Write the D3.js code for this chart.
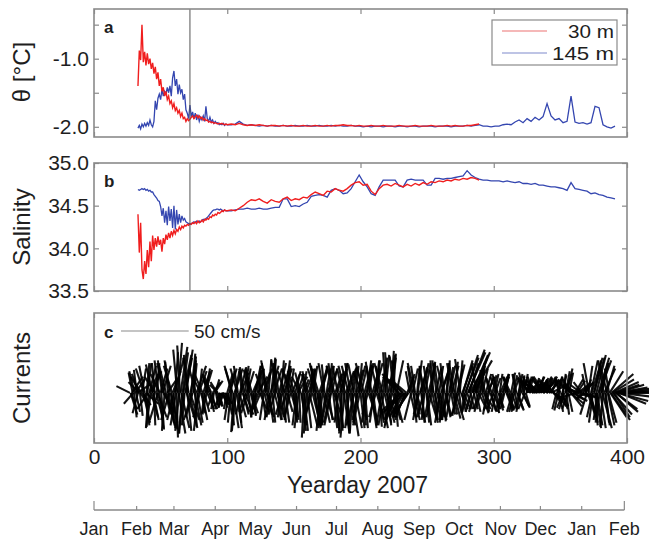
<!DOCTYPE html>
<html>
<head>
<meta charset="utf-8">
<script src="https://cdn.jsdelivr.net/npm/d3@7"></script>
<style>
  body { margin: 0; background: #fff; }
  text { font-family: "Liberation Sans", Arial, sans-serif; fill: #1e1e1e; }
</style>
</head>
<body>
<div id="container"></div>
<script>
/* DATA */
// sampling days: daily through the noisy spring, then every 3 days
const daysEarly = d3.range(33, 101);
const daysLateShallow = d3.range(103, 290, 3);
const daysLateDeep = d3.range(103, 392, 3);

// potential temperature, 30 m (red)
const theta30 = [
  -1.40, -0.88, -1.02, -0.50, -1.05, -0.90, -1.10, -0.92, -1.08, -1.00,
  -1.15, -1.06, -1.22, -1.12, -1.30, -1.20, -1.40, -1.30, -1.48, -1.42,
  -1.55, -1.48, -1.60, -1.55, -1.66, -1.62, -1.72, -1.66, -1.76, -1.72,
  -1.80, -1.76, -1.85, -1.80, -1.88, -1.86, -1.92, -1.88, -1.91, -1.89,
  -1.86, -1.84, -1.88, -1.85, -1.83, -1.87, -1.84, -1.88, -1.86, -1.90,
  -1.88, -1.91, -1.90, -1.93, -1.92, -1.94, -1.93, -1.95, -1.94, -1.95,
  -1.96, -1.95, -1.96, -1.95, -1.96, -1.97, -1.96, -1.97,
  -1.96, -1.97, -1.95, -1.97, -1.98, -1.97, -1.98, -1.97, -1.98, -1.99,
  -1.98, -1.98, -1.99, -1.98, -1.99, -1.98, -1.99, -1.99, -1.98, -1.99,
  -1.99, -1.98, -1.99, -1.99, -1.98, -1.99, -1.98, -1.98, -1.97, -1.98,
  -1.98, -1.99, -1.98, -1.99, -1.99, -1.98, -1.99, -1.99, -1.98, -1.99,
  -1.99, -1.99, -1.98, -1.99, -1.99, -1.99, -1.98, -1.99, -1.99, -1.99,
  -1.98, -1.99, -1.99, -1.99, -1.98, -1.99, -1.98, -1.99, -1.99, -1.98,
  -1.98, -1.97, -1.96
];

// potential temperature, 145 m (blue)
const theta145 = [
  -2.02, -1.98, -2.03, -1.96, -2.00, -1.95, -1.99, -1.94, -1.98, -1.90,
  -1.97, -2.00, -1.92, -1.62, -1.75, -1.58, -1.52, -1.60, -1.45, -1.55,
  -1.48, -1.52, -1.42, -1.50, -1.40, -1.55, -1.28, -1.18, -1.40, -1.30,
  -1.52, -1.38, -1.50, -1.45, -1.60, -1.52, -1.75, -1.80, -1.88, -1.68,
  -1.85, -1.78, -1.88, -1.80, -1.90, -1.82, -1.92, -1.86, -1.90, -1.84,
  -1.92, -1.70, -1.88, -1.92, -1.86, -1.93, -1.90, -1.95, -1.92, -1.95,
  -1.94, -1.97, -1.96, -1.97, -1.95, -1.98, -1.96, -1.97,
  -1.97, -1.96, -1.92, -1.96, -1.98, -1.97, -1.98, -1.99, -1.98, -1.99,
  -1.98, -1.99, -1.99, -1.98, -1.99, -1.99, -1.98, -1.99, -1.99, -1.98,
  -1.99, -1.99, -1.98, -1.99, -1.99, -1.98, -1.99, -1.98, -1.99, -1.99,
  -1.98, -1.99, -1.99, -2.00, -1.99, -2.00, -1.99, -1.99, -2.00, -1.99,
  -1.99, -2.00, -1.99, -1.99, -2.00, -1.99, -1.99, -2.00, -1.99, -1.99,
  -1.99, -2.00, -1.99, -1.99, -1.99, -2.00, -1.99, -1.99, -1.99, -1.98,
  -1.99, -1.98, -1.97, -1.99, -1.99, -2.00, -1.99, -1.99, -1.97, -1.96,
  -1.97, -1.93, -1.90, -1.94, -1.88, -1.92, -1.86, -1.90, -1.85, -1.66,
  -1.84, -1.90, -1.88, -1.94, -1.92, -1.55, -1.93, -1.95, -1.94, -1.96,
  -1.94, -1.70, -1.72, -1.97, -2.00, -2.02, -1.99
];

// salinity, 30 m (red)
const sal30 = [
  34.40, 33.95, 34.30, 33.75, 33.64, 33.85, 33.70, 33.98, 33.78, 34.08,
  33.85, 34.15, 33.98, 34.12, 34.02, 34.14, 34.04, 34.10, 33.96, 34.12,
  34.05, 34.16, 34.10, 34.18, 34.12, 34.20, 34.15, 34.21, 34.17, 34.22,
  34.20, 34.25, 34.22, 34.26, 34.24, 34.27, 34.26, 34.28, 34.27, 34.29,
  34.28, 34.30, 34.29, 34.31, 34.29, 34.32, 34.30, 34.31, 34.33, 34.31,
  34.34, 34.33, 34.35, 34.34, 34.37, 34.36, 34.39, 34.38, 34.40, 34.39,
  34.42, 34.41, 34.42, 34.44, 34.43, 34.45, 34.44, 34.44,
  34.45, 34.44, 34.47, 34.50, 34.54, 34.57, 34.56, 34.58, 34.55, 34.53,
  34.57, 34.55, 34.54, 34.58, 34.60, 34.56, 34.58, 34.57, 34.60, 34.59,
  34.63, 34.66, 34.64, 34.62, 34.67, 34.66, 34.70, 34.68, 34.67, 34.70,
  34.74, 34.77, 34.78, 34.74, 34.75, 34.67, 34.63, 34.70, 34.74, 34.75,
  34.73, 34.76, 34.74, 34.72, 34.75, 34.73, 34.76, 34.74, 34.77, 34.75,
  34.78, 34.77, 34.79, 34.78, 34.80, 34.79, 34.81, 34.80, 34.82, 34.81,
  34.83, 34.82, 34.80
];

// salinity, 145 m (blue)
const sal145 = [
  34.69, 34.68, 34.69, 34.70, 34.69, 34.70, 34.68, 34.69, 34.67, 34.68,
  34.66, 34.66, 34.63, 34.61, 34.59, 34.56, 34.55, 34.49, 34.38, 34.47,
  34.30, 34.44, 34.27, 34.49, 34.32, 34.46, 34.24, 34.50, 34.22, 34.45,
  34.28, 34.40, 34.30, 34.38, 34.33, 34.35, 34.31, 34.30, 34.29, 34.28,
  34.29, 34.30, 34.31, 34.30, 34.32, 34.31, 34.32, 34.31, 34.33, 34.34,
  34.33, 34.35, 34.36, 34.38, 34.40, 34.42, 34.44, 34.45, 34.45, 34.46,
  34.46, 34.45, 34.46, 34.45, 34.44, 34.45, 34.44, 34.44,
  34.44, 34.45, 34.46, 34.46, 34.47, 34.46, 34.46, 34.47, 34.46, 34.46,
  34.47, 34.48, 34.48, 34.58, 34.58, 34.49, 34.50, 34.49, 34.52, 34.54,
  34.61, 34.62, 34.63, 34.62, 34.60, 34.68, 34.70, 34.68, 34.64, 34.65,
  34.70, 34.78, 34.86, 34.78, 34.72, 34.64, 34.62, 34.72, 34.80, 34.80,
  34.80, 34.80, 34.73, 34.72, 34.80, 34.81, 34.80, 34.80, 34.80, 34.74,
  34.74, 34.82, 34.82, 34.81, 34.82, 34.82, 34.83, 34.84, 34.85, 34.91,
  34.86, 34.83, 34.81, 34.80, 34.80, 34.79, 34.79, 34.79, 34.78, 34.79,
  34.78, 34.77, 34.78, 34.76, 34.76, 34.75, 34.76, 34.74, 34.74, 34.73,
  34.72, 34.72, 34.71, 34.70, 34.68, 34.77, 34.70, 34.69, 34.68, 34.67,
  34.64, 34.65, 34.63, 34.62, 34.60, 34.59, 34.58
];

// current vectors (cm/s), twice daily; first stick on day 27
const currentStart = 27;
// 00h samples
const curU = [
  -10, 4, -3, 2, 7, -2, -4, -8, 6, 3,     5, -4, 9, 3, -2, 6, 5, -5, 1, -8,
  2, -6, 3, 5, -3, 8, -2, -5, 7, 4,       -4, 3, 6, -5, 2, 1, 3, -3, 5, -2,
  6, -2, 5, 3, -4, 7, 3, -5, 2, 1,        7, -3, 2, -6, 4, 5, -2, 3, 5, -4,
  3, -5, 6, -2, 3, 4, -6, 2, -4, 5,       3, -6, 2, 4, -3, 5, 2, -6, -2, 3,
  4, -3, 5, 6, -2, 4, 3, -5, 5, 2,        -3, 5, 6, -2, 4, -4, 7, 2, -5, 3,
  5, 3, -3, 5, 2, -4, 3, 2, 6, -5,        -4, 3, 5, -2, 6, 2, -5, 3, 4, -3,
  3, 5, -6, 2, 4, -3, 7, 1, -4, 3,        4, -2, -3, 3, 5, -4, 3, 5, -2, 3,
  -5, 2, 6, -3, 4, 5, -2, -4, 7, 3,       3, -5, -3, 6, 5, 2, -4, 3, 5, -2,
  3, -3, 6, 2, -5, 4, 4, -2, -4, 5,       5, -4, 2, 3, -6, 2, 5, -3, 3, 6,
  -3, 4, 5, -3, 3, 6, -5, 2, 4, -4,       3, 5, -2, 3, 5, -4, 2, 6, -3, 2,
  5, -3, -12, -14, -9, -10, -15, -7, 5, -12,  -3, -5, 4, 2, -3, 5, 3, -4, 5, 2,
  4, -2, -5, 3, 5, -4, 3, 4, -3, 2,       -3, 5, 3, -4, 6, 2, -3, 4, 2, -5,
  4, 3, -4, 5, 2, -3, 5, 2, -4, 3,        7, -2, 9, 4, 12, 10, -4, 13, 3, 9,
  3, 5, -4, 3, 5, -2, 6, 4, -3, 4,        -3, 4, 3, -5, 4, 2, -4, 3, 5, -3,
  4, -3, 2, 5, -4, 3, 3, -4, 4, 2,        -3, 4, 4, -3, 2, 5, -4, 3, 3, -4,
  8, -6, 10, 4, -9, 6, -10, 7, 5, -7,     10, -8, 6, 4, -10, 7, 12, -5, 6, -9,
  -3, 4, 3, -4, 5, 2, -4, 3, 4, 3,        -6, 8, -12, 10, 6, -14, 8, -10, 12, -6,
  5, -6, 4, -5, 3, 6, 5, -4, 8, 2,        7, -3, 9, 4, 5, -2, 8, 3, -5, 6,
  10, 14, 16, 12, 18, 16, 22, 20, 24, 25
];
const curV = [
  5, -12, 15, -18, 10, 17, -15, 8, -10, 18,   -22, 20, -8, 22, -26, 14, -18, 21, -24, 12,
  22, -20, -26, 18, 24, -14, -28, 20, 10, -22,  24, -26, 16, -20, 30, -33, 37, -28, 34, -30,
  28, -24, 32, -28, 26, -20, 29, -18, 22, -25,  20, -28, 18, 12, -20, 16, -15, 18, -12, 10,
  -14, 12, 8, -12, 10, -10, 6, -8, -10, -6,     -11, -4, -9, 14, -20, 18, -24, 20, -29, 16,
  -26, 20, -18, 15, 18, -16, 20, -14, 16, -18,  19, -15, 14, -18, 20, -16, 12, 17, -12, -18,
  15, -14, 22, -18, 24, -20, 26, -22, 18, -16,  25, -20, 22, -18, 20, -22, 16, 24, -14, -20,
  18, -18, 14, -20, 16, -24, 12, -22, 15, -28,  10, -33, 14, -26, 17, -22, 18, -20, 20, -24,
  22, -26, 18, -28, 20, -22, 21, -25, 16, -20,  20, -24, 22, -18, 14, -28, 20, -26, 18, -30,
  22, -33, 16, -28, 20, -24, 19, -30, 21, -26,  17, -20, 22, -26, 15, -24, 20, -22, 24, -18,
  23, -26, 18, -22, 24, -20, 21, -25, 19, -24,  26, -22, 30, -24, 28, -26, 31, -20, 27, -25,
  24, -18, 12, -16, -18, 10, -14, -16, 12, -18, 16, -20, 18, -22, 20, -18, 24, -16, 19, -22,
  22, -20, 18, -24, 21, -19, 23, -22, 17, -20,  24, -18, 20, -22, 19, -21, 22, -17, 24, -20,
  20, -16, 22, -19, 23, -17, 21, -15, 25, -14,  24, -15, 28, -12, 32, 18, -14, 30, -12, 26,
  -14, 22, -12, 18, -15, 17, -10, 14, -16, 12,  12, -14, 13, -12, 11, -15, 14, -13, 12, -14,
  13, -12, 14, -11, 12, -13, 15, -14, 11, -12,  14, -12, 12, -14, 13, -11, 15, -10, 10, 8,
  10, 12, 6, 11, 9, 12, 8, 11, 10, 12,          9, 12, 10, 11, 8, 10, 6, 9, -8, 5,
  -12, 10, -14, 12, -10, 14, -12, 16, 18, -14,  12, -10, 8, -6, 10, -4, 6, 4, -3, 8,
  7, -4, 10, -16, 20, -22, 24, -18, 26, -24,    28, -20, 24, -26, 22, -25, 18, -24, 20, -22,
  16, -20, 10, -18, 6, -14, 4, -8, 2, 0
];
// 12h samples
const curU12 = [
  5, 8, -7, -4, 3, 9, -5, 2, -8, 6,       -6, 3, 2, -8, 5, -3, 7, 4, -2, 5,
  7, -3, -7, 2, 6, -5, 4, 6, -2, -6,      5, -6, 3, 7, -4, -3, 5, -2, 6, 4,
  -4, 5, 7, -3, 6, 4, -6, 2, 5, -5,       4, 6, -5, 3, -6, 4, 5, -3, -4, 6,
  -5, 3, -4, 6, 2, -5, 3, -2, 5, -3,      -4, 5, -2, 3, 4, -2, -5, 4, 6, -3,
  -5, 2, 4, -4, 5, -3, 6, 3, -5, -4,      4, -5, 2, 5, -4, 3, -6, 5, 2, -5,
  -3, 5, 4, -5, 3, 6, -4, 2, 5, -2,       5, -3, 4, 2, -5, 6, 3, -4, 2, -5,
  -4, 6, 3, -5, 2, 5, -3, -6, 4, 3,       3, 5, -2, -4, 6, 2, -5, 3, 4, -6,
  4, -6, 2, 5, -3, -4, 6, 3, -5, 2,       -5, 4, 3, -6, 2, 5, -3, 6, 1, -4,
  4, -5, 2, 6, -3, -4, 5, 3, -6, 2,       -3, 5, -5, 4, 3, -6, 2, 5, -4, 3,
  5, -4, 3, 6, -5, 2, 4, -3, 5, -6,       -4, 3, 6, -2, 5, 4, -5, 2, 6, -3,
  -8, -12, -10, -15, -13, -8, -7, -12, -10, 4,  4, -3, 5, -5, 3, 2, -4, 6, 3, -2,
  -5, 4, 2, -3, 6, 3, -4, -2, 5, 4,       4, -3, 5, 6, -2, -5, 4, 2, -6, 3,
  -3, 5, 3, -4, 6, 4, -5, 2, 5, 8,        5, 10, -3, 13, 7, 3, 12, 14, -4, 7,
  -4, 6, 3, -5, 4, 5, -3, 2, 5, -4,       4, -4, 5, 3, -3, -5, 4, 2, -4, 5,
  -4, 3, 5, -3, 2, -5, 4, 3, -4, -2,      5, 3, -4, -2, 5, 3, -5, 4, -4, 3,
  -10, 8, -4, 10, 6, -8, 4, -10, 8, 4,    6, -10, 8, -6, 10, -8, 4, 10, -10, 8,
  4, -3, -4, 5, 3, -5, 5, 2, -4, 3,       10, -10, 8, -8, 12, 6, -12, 10, -8, 12,
  -5, 6, -3, 6, -4, 5, 8, -3, 5, 4,       4, 8, -3, 5, 7, -4, 3, 6, 5, -3,
  12, 16, 14, 18, 16, 20, 22, 22, 24, 22
];
const curV12 = [
  -16, 12, -8, 16, -14, 6, 14, -17, 12, -9,     18, -24, 22, -12, 20, -25, 16, -20, 22, -18,
  -18, 24, 14, -27, 20, 22, -16, -24, 23, -20,  -22, 20, -27, 26, -24, 32, -30, 35, -26, 30,
  -30, 26, -22, 28, -26, 24, -20, 27, -24, 18,  -22, 16, -18, -15, 14, -14, 17, -16, 14, -12,
  10, -12, -10, 9, -11, 8, -10, -9, -8, -11,    -10, -8, -12, -16, 16, -22, 18, -26, 18, -28,
  18, -22, 16, -16, -14, 19, -16, 18, -15, 17,  -16, 18, -17, 16, -14, 20, -15, -12, 18, 14,
  -20, 18, -16, 24, -22, 20, -18, 25, -20, 22,  -18, 22, -20, 24, -16, 18, -22, -12, 20, 18,
  -16, 14, -22, 16, -20, 14, -26, 12, -24, 16,  -28, 12, -30, 16, -24, 18, -18, 20, -22, 18,
  -24, 20, -22, 18, -26, 22, -20, 18, -24, 22,  -22, 18, -26, 20, -24, 16, -22, 22, -28, 18,
  -28, 20, -30, 18, -26, 22, -32, 17, -24, 20,  -22, 20, -24, 18, -20, 22, -26, 20, -16, 22,
  -22, 20, -24, 22, -18, 24, -22, 20, -26, 22,  -24, 28, -22, 30, -20, 26, -24, 29, -22, 24,
  -20, 14, -17, -14, 12, -15, -18, 10, -16, 14, -18, 20, -20, 22, -16, 20, -20, 18, -22, 20,
  -18, 22, -22, 20, -20, 22, -18, 24, -20, 18,  -20, 22, -20, 18, -22, 20, -18, 22, -20, 19,
  -18, 20, -16, 22, -20, 18, -16, 24, -12, 22,  -12, 26, -14, 30, 22, -12, 28, 24, -14, 20,
  20, -12, 16, -14, 18, -12, 15, -14, 12, -13,  -13, 11, -12, 14, -14, 12, -11, 14, -13, 12,
  -11, 14, -13, 12, -14, 11, -12, 13, -14, 14,  -13, 14, -12, 12, -10, 14, -12, 12, 9, 11,
  11, 8, 12, 9, 11, 10, 12, 9, 12, 10,          11, 10, 12, 9, 11, 8, 10, -6, 9, -10,
  12, -13, 11, -12, 13, -11, 14, -16, -12, 15,  -8, 9, -5, 8, -3, 9, 5, 7, 6, -4,
  -5, 8, 14, -18, 22, -20, 26, -22, 24, -26,    -24, 26, -22, 22, -26, 24, -22, 20, -24, 18,
  -18, 14, -16, 8, -12, 6, -6, 3, -3, 1
];

const yeardayTicks = [0, 100, 200, 300, 400];
const thetaTicks = [-2.0, -1.5, -1.0, -0.5];
const thetaLabelled = [-2.0, -1.0];
const salTicks = [33.5, 34.0, 34.5, 35.0];
const monthNames = ["Jan", "Feb", "Mar", "Apr", "May", "Jun", "Jul", "Aug", "Sep", "Oct", "Nov", "Dec", "Jan", "Feb"];
const monthDays = [0, 32, 60, 91, 121, 152, 182, 213, 244, 274, 305, 335, 366, 398];
const markerDay = 72;
const scaleBarSpeed = 50;

/* LAYOUT */
const width = 649, height = 541;
const left = 94, right = 627;
const panelA = { top: 9, bottom: 137 };
const panelB = { top: 163, bottom: 291 };
const panelC = { top: 313, bottom: 443 };
const red = "#f01e1e", blue = "#3446b0", frame = "#8a8a8a";

const svg = d3.select("#container").append("svg")
  .attr("width", width)
  .attr("height", height);

/* SCALES */
const x = d3.scaleLinear().domain([0, 400]).range([left, right]);
const yA = d3.scaleLinear().domain([-2.15, -0.27]).range([panelA.bottom, panelA.top]);
const yB = d3.scaleLinear().domain([33.5, 35.0]).range([panelB.bottom, panelB.top]);
const yC = d3.scaleLinear().domain([-37, 59]).range([panelC.bottom, panelC.top]);
const pxPerCm = yC(0) - yC(1);

function zipSeries(days, values) {
  return days.map((d, i) => ({ day: d, v: values[i] }));
}

// frame + inward ticks on all four sides
function drawFrame(p, yScale, yTickVals, yFormat, showX) {
  const g = svg.append("g");
  const tick = 5;
  g.append("g")
    .attr("transform", `translate(0,${p.bottom})`)
    .call(d3.axisBottom(x).tickValues(yeardayTicks).tickSize(-tick).tickPadding(6)
      .tickFormat(showX ? d3.format("d") : () => ""));
  g.append("g")
    .attr("transform", `translate(0,${p.top})`)
    .call(d3.axisTop(x).tickValues(yeardayTicks).tickSize(-tick).tickFormat(() => ""));
  if (yScale) {
    g.append("g")
      .attr("transform", `translate(${left},0)`)
      .call(d3.axisLeft(yScale).tickValues(yTickVals).tickSize(-tick).tickPadding(5).tickFormat(yFormat));
    g.append("g")
      .attr("transform", `translate(${right},0)`)
      .call(d3.axisRight(yScale).tickValues(yTickVals).tickSize(-tick).tickFormat(() => ""));
  }
  g.selectAll(".domain").remove();
  g.selectAll(".tick line").attr("stroke", frame).attr("stroke-width", 1.2);
  g.selectAll(".tick text").attr("font-size", 21).attr("fill", "#1e1e1e")
    .attr("font-family", '"Liberation Sans", Arial, sans-serif');
  g.append("rect")
    .attr("x", left).attr("y", p.top)
    .attr("width", right - left).attr("height", p.bottom - p.top)
    .attr("fill", "none").attr("stroke", frame).attr("stroke-width", 1.6);
  return g;
}

function panelLetter(t, y) {
  svg.append("text").attr("x", 104).attr("y", y)
    .attr("font-size", 17).attr("font-weight", "bold").text(t);
}

function yLabel(t, cy) {
  svg.append("text")
    .attr("transform", `translate(30,${cy}) rotate(-90)`)
    .attr("text-anchor", "middle")
    .attr("font-size", 24)
    .text(t);
}

/* PANEL a: theta */
const lineA = d3.line().x(d => x(d.day)).y(d => yA(d.v));
const thetaShallow = zipSeries(daysEarly.concat(daysLateShallow), theta30);
const thetaDeep = zipSeries(daysEarly.concat(daysLateDeep), theta145);

svg.append("path").datum(thetaDeep).attr("d", lineA)
  .attr("fill", "none").attr("stroke", blue).attr("stroke-width", 1.3);
svg.append("path").datum(thetaShallow).attr("d", lineA)
  .attr("fill", "none").attr("stroke", red).attr("stroke-width", 1.4);
svg.append("line")
  .attr("x1", x(markerDay)).attr("x2", x(markerDay))
  .attr("y1", panelA.top).attr("y2", panelA.bottom)
  .attr("stroke", "#555").attr("stroke-width", 1);
drawFrame(panelA, yA, thetaTicks, d => thetaLabelled.includes(d) ? d.toFixed(1) : "", false);
panelLetter("a", 33);
yLabel("θ [°C]", 72);

// legend
const legend = svg.append("g");
legend.append("rect").attr("x", 492).attr("y", 20).attr("width", 125).attr("height", 45)
  .attr("fill", "#fff").attr("stroke", frame).attr("stroke-width", 1.2);
[["30 m", "#f2a0a0", 31, 46], ["145 m", "#a8b0dc", 53, 62]].forEach(([lab, col, ly, len]) => {
  legend.append("line").attr("x1", 502).attr("x2", 547).attr("y1", ly).attr("y2", ly)
    .attr("stroke", col).attr("stroke-width", 1.5);
  legend.append("text").attr("x", 614).attr("y", ly).attr("dy", "0.36em")
    .attr("text-anchor", "end").attr("font-size", 19)
    .attr("textLength", len).attr("lengthAdjust", "spacingAndGlyphs")
    .text(lab);
});

/* PANEL b: salinity */
const lineB = d3.line().x(d => x(d.day)).y(d => yB(d.v));
const salShallow = zipSeries(daysEarly.concat(daysLateShallow), sal30);
const salDeep = zipSeries(daysEarly.concat(daysLateDeep), sal145);

svg.append("path").datum(salDeep).attr("d", lineB)
  .attr("fill", "none").attr("stroke", blue).attr("stroke-width", 1.3);
svg.append("path").datum(salShallow).attr("d", lineB)
  .attr("fill", "none").attr("stroke", red).attr("stroke-width", 1.4);
svg.append("line")
  .attr("x1", x(markerDay)).attr("x2", x(markerDay))
  .attr("y1", panelB.top).attr("y2", panelB.bottom)
  .attr("stroke", "#555").attr("stroke-width", 1);
drawFrame(panelB, yB, salTicks, d3.format(".1f"), false);
panelLetter("b", 187);
yLabel("Salinity", 227);

/* PANEL c: current sticks */
const sticks = curU.map((u, i) => ({ day: currentStart + i, u: u, v: curV[i] }))
  .concat(curU12.map((u, i) => ({ day: currentStart + i + 0.5, u: u, v: curV12[i] })));
svg.append("g").selectAll("line")
  .data(sticks)
  .join("line")
  .attr("x1", d => x(d.day))
  .attr("y1", yC(0))
  .attr("x2", d => x(d.day) + d.u * pxPerCm)
  .attr("y2", d => yC(d.v))
  .attr("stroke", "#000")
  .attr("stroke-width", 2.1)
  .attr("stroke-opacity", 0.92);
drawFrame(panelC, null, null, null, true);
panelLetter("c", 338);
svg.append("line")
  .attr("x1", 121).attr("x2", 121 + scaleBarSpeed * pxPerCm)
  .attr("y1", 331).attr("y2", 331)
  .attr("stroke", frame).attr("stroke-width", 1.2);
svg.append("text").attr("x", 194).attr("y", 331).attr("dy", "0.36em")
  .attr("font-size", 19).text(`${scaleBarSpeed} cm/s`);
yLabel("Currents", 378);

// x axis title
svg.append("text").attr("x", (left + right) / 2 - 3).attr("y", 493)
  .attr("text-anchor", "middle").attr("font-size", 23).text("Yearday 2007");

/* month axis */
const months = svg.append("g");
months.append("line")
  .attr("x1", x(monthDays[0])).attr("x2", x(monthDays[monthDays.length - 1]))
  .attr("y1", 510).attr("y2", 510)
  .attr("stroke", frame).attr("stroke-width", 1.4);
months.selectAll(".mtick")
  .data(monthDays)
  .join("line")
  .attr("x1", d => x(d)).attr("x2", d => x(d))
  .attr("y1", (d, i) => (i === 0 || i === monthDays.length - 1) ? 501 : 506)
  .attr("y2", 510)
  .attr("stroke", frame).attr("stroke-width", 1.2);
months.selectAll(".mlabel")
  .data(monthDays)
  .join("text")
  .attr("x", d => x(d))
  .attr("y", 529)
  .attr("dy", "0.36em")
  .attr("text-anchor", "middle")
  .attr("font-size", 18)
  .text((d, i) => monthNames[i]);
</script>
</body>
</html>
